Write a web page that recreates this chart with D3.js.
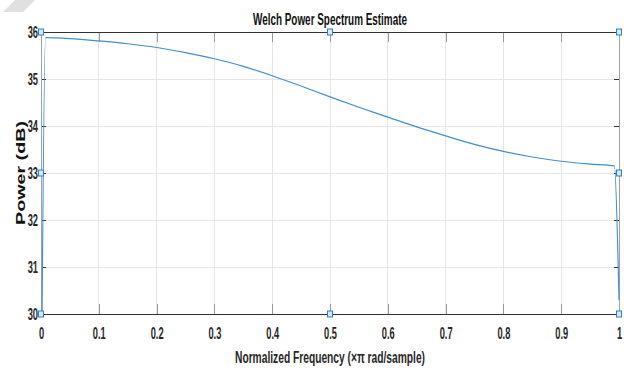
<!DOCTYPE html>
<html><head><meta charset="utf-8">
<script src="https://cdn.jsdelivr.net/npm/d3@7"></script>
<style>
html,body{margin:0;padding:0;background:#fff;}
svg{display:block;}
text{font-family:"Liberation Sans",Arial,sans-serif;}
</style></head>
<body><svg id="c" width="624" height="369"></svg>
<script>
// Data
const freq  = [0, 0.0078, 0.05, 0.1, 0.15, 0.2, 0.25, 0.3, 0.35, 0.4, 0.45, 0.5, 0.55, 0.6, 0.65, 0.7, 0.75, 0.8, 0.85, 0.9, 0.95, 0.992, 1.0];
const power = [27, 35.88, 35.86, 35.81, 35.75, 35.67, 35.56, 35.43, 35.27, 35.07, 34.85, 34.62, 34.40, 34.19, 33.98, 33.79, 33.61, 33.46, 33.34, 33.25, 33.19, 33.15, 30.3];
const xTicks = [0, 0.1, 0.2, 0.3, 0.4, 0.5, 0.6, 0.7, 0.8, 0.9, 1];
const yTicks = [30, 31, 32, 33, 34, 35, 36];
const handleX = [0, 0.5, 1];
const handleY = [30, 33, 36];
const titleText = "Welch Power Spectrum Estimate";
const xLabel = "Normalized Frequency  (\u00d7\u03c0 rad/sample)";
const yLabel = "Power (dB)";

const svg = d3.select("#c");
const L = 41, R = 619, T = 32, B = 314;
const x = d3.scaleLinear().domain([0, 1]).range([L, R]);
const y = d3.scaleLinear().domain([30, 36]).range([B, T]);

// watermark shape in corner
svg.append("polygon").attr("points", "3,12 23,12 35,0 15,0").attr("fill", "#e0e0e0");

// grid
svg.append("g").selectAll("line").data(xTicks.slice(1, -1)).join("line")
  .attr("x1", d => x(d)).attr("x2", d => x(d)).attr("y1", T).attr("y2", B)
  .attr("stroke", "#e6e6e6").attr("stroke-width", 1).attr("shape-rendering", "crispEdges");
svg.append("g").selectAll("line").data(yTicks.slice(1, -1)).join("line")
  .attr("x1", L).attr("x2", R).attr("y1", d => y(d)).attr("y2", d => y(d))
  .attr("stroke", "#e6e6e6").attr("stroke-width", 1).attr("shape-rendering", "crispEdges");

// axes
const fmt = d => d === 0 ? "0" : d === 1 ? "1" : d3.format(".1f")(d);
const gx = svg.append("g").attr("transform", `translate(0,${B})`)
  .call(d3.axisBottom(x).tickValues(xTicks).tickFormat(fmt).tickSize(-10));
const gxt = svg.append("g").attr("transform", `translate(0,${T})`)
  .call(d3.axisTop(x).tickValues(xTicks).tickFormat("").tickSize(-10));
const gy = svg.append("g").attr("transform", `translate(${L},0)`)
  .call(d3.axisLeft(y).tickValues(yTicks).tickFormat(d3.format("d")).tickSize(-5));
const gyr = svg.append("g").attr("transform", `translate(${R},0)`)
  .call(d3.axisRight(y).tickValues(yTicks).tickFormat("").tickSize(-5));

[gx, gxt, gy, gyr].forEach(g => {
  g.select(".domain").remove();
  g.selectAll(".tick line").attr("shape-rendering", "crispEdges");
});
gx.selectAll(".tick line").attr("stroke", "#999");
gxt.selectAll(".tick line").attr("stroke", "#999");
gy.selectAll(".tick line").attr("stroke", "#333");
gyr.selectAll(".tick line").attr("stroke", "#333");

gx.selectAll(".tick text").attr("font-size", 16).attr("fill", "#262626")
  .attr("font-weight", "bold").attr("transform", "scale(0.58,1)").attr("dy", null).attr("y", 25);
gy.selectAll(".tick text").attr("font-size", 16).attr("fill", "#262626")
  .attr("font-weight", "bold").attr("text-anchor", "end").attr("dy", "0.36em")
  .attr("x", -3 / 0.58).attr("transform", "scale(0.58,1)");

// box
svg.append("line").attr("x1", L).attr("x2", R).attr("y1", T).attr("y2", T).attr("stroke", "#333").attr("shape-rendering", "crispEdges");
svg.append("line").attr("x1", L).attr("x2", R).attr("y1", B).attr("y2", B).attr("stroke", "#333").attr("shape-rendering", "crispEdges");
svg.append("line").attr("x1", L).attr("x2", L).attr("y1", T).attr("y2", B).attr("stroke", "#a0a0a0").attr("shape-rendering", "crispEdges");
svg.append("line").attr("x1", R).attr("x2", R).attr("y1", T).attr("y2", B).attr("stroke", "#a0a0a0").attr("shape-rendering", "crispEdges");

// clip + line
svg.append("clipPath").attr("id", "clp").append("rect").attr("x", L - 1).attr("y", T - 1).attr("width", R - L + 2).attr("height", B - T + 2);
const line = d3.line().x((d, i) => x(freq[i])).y(d => y(d)).curve(d3.curveMonotoneX);
svg.append("path").datum(power).attr("clip-path", "url(#clp)")
  .attr("d", line).attr("fill", "none").attr("stroke", "#3f8fd2").attr("stroke-width", 1.2);

// selection handles
const hpts = [];
handleX.forEach(hx => handleY.forEach(hy => { if (!(hx === 0.5 && hy === 33)) hpts.push([hx, hy]); }));
svg.append("g").selectAll("rect").data(hpts).join("rect")
  .attr("x", d => x(d[0]) - 2.5).attr("y", d => y(d[1]) - 3)
  .attr("width", 5).attr("height", 6)
  .attr("fill", "#d8e8f6").attr("stroke", "#2f7fc8").attr("stroke-width", 1);

// title & labels
svg.append("text").attr("x", 330).attr("y", 25).attr("text-anchor", "middle")
  .attr("font-size", 16).attr("font-weight", "bold").attr("fill", "#111")
  .attr("textLength", 154).attr("lengthAdjust", "spacingAndGlyphs").text(titleText);
svg.append("text").attr("x", 330).attr("y", 363).attr("text-anchor", "middle")
  .attr("font-size", 16).attr("fill", "#262626").attr("font-weight", "bold")
  .attr("textLength", 190).attr("lengthAdjust", "spacingAndGlyphs").text(xLabel);
svg.append("text").attr("transform", "translate(24.5,173) rotate(-90)").attr("text-anchor", "middle")
  .attr("font-size", 13.5).attr("font-weight", "bold").attr("fill", "#111")
  .attr("textLength", 104).attr("lengthAdjust", "spacingAndGlyphs").text(yLabel);
</script></body></html>
